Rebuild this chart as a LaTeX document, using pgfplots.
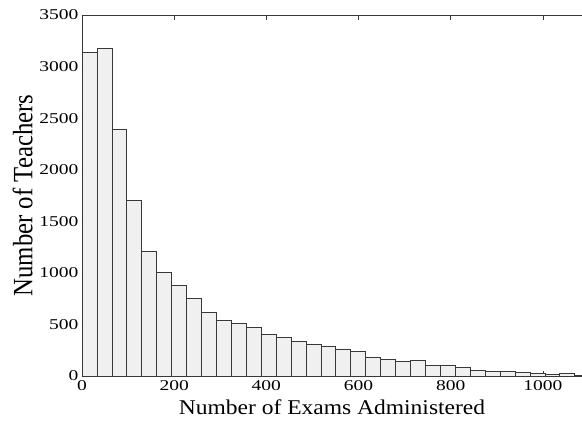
\documentclass[border=0pt]{standalone}
\usepackage{fontspec}
\setmainfont{Liberation Serif}
\newfontfamily\tickfont{Liberation Serif}[FakeStretch=1.3]
\newfontfamily\xlabfont{Liberation Serif}[FakeStretch=1.12]
\newfontfamily\ylabfont{Liberation Serif}[FakeStretch=0.885]
\usepackage{pgfplots}
\pgfplotsset{compat=1.18}
\definecolor{barfill}{HTML}{F0F0F0}
\definecolor{edge}{HTML}{383838}
\pgfplotstableread{
x y
0 3134
32.4 3173
64.8 2395
97.2 1700
129.6 1205
162 1008
194.4 879
226.8 753
259.2 617
291.6 540
324 511
356.4 472
388.8 400
421.2 375
453.6 333
486 307
518.4 291
550.8 262
583.2 236
615.6 181
648 162
680.4 139
712.8 149
745.2 103
777.6 103
810 84
842.4 55
874.8 48
907.2 42
939.6 32
972 26
1004.4 16
1036.8 26
1069.2 10
1101.6 10
}\histdata
\begin{document}
\begin{tikzpicture}
\useasboundingbox (-82pt,-47pt) rectangle (500pt,376pt);
\begin{axis}[
 at={(0,0)}, anchor=south west,
 scale only axis, width=500pt, height=361pt,
 xmin=0, xmax=1085, ymin=0, ymax=3500,
 axis x line=box, axis y line=left,
 axis line style={-, draw=edge, line width=0.8pt},
 tick align=inside, major tick length=5pt,
 tick style={draw=edge, line width=0.6pt},
 xtick={0,200,...,1000}, ytick={0,500,...,3500},
 /pgf/number format/assume math mode=true,
 /pgf/number format/1000 sep={},
 ticklabel style={font=\tickfont\fontsize{15}{16}\selectfont},
 xticklabel style={yshift=-1pt},
 xlabel={Number of Exams Administered},
 ylabel={Number of Teachers},
 xlabel style={font=\xlabfont\fontsize{21}{22}\selectfont, yshift=-2pt},
 ylabel style={font=\ylabfont\fontsize{28}{30}\selectfont},
]
\addplot[ybar interval, fill=barfill, draw=edge, line width=0.7pt] table[x=x, y=y] {\histdata};
\end{axis}
\end{tikzpicture}
\end{document}
